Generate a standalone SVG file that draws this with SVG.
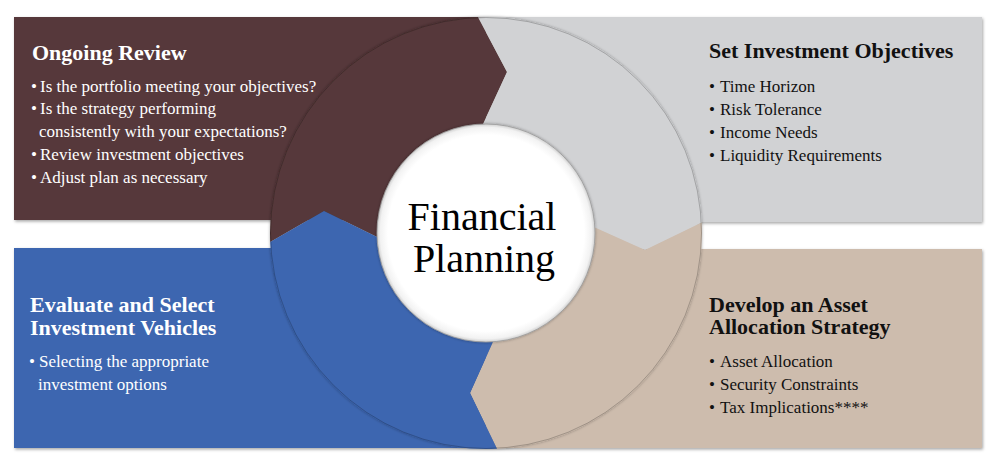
<svg xmlns="http://www.w3.org/2000/svg" width="992" height="464" viewBox="0 0 992 464">
  <defs>
    <filter id="sh" x="-5%" y="-5%" width="110%" height="112%">
      <feDropShadow dx="1" dy="1.5" stdDeviation="1.5" flood-color="#000" flood-opacity="0.35"/>
    </filter>
    <filter id="shr" x="-5%" y="-5%" width="110%" height="110%">
      <feDropShadow dx="0" dy="0" stdDeviation="1.5" flood-color="#000" flood-opacity="0.35"/>
    </filter>
    <radialGradient id="inner" cx="50%" cy="50%" r="50%">
      <stop offset="0.9" stop-color="#ffffff"/>
      <stop offset="0.97" stop-color="#f2f2f2"/>
      <stop offset="1" stop-color="#d0d0d0"/>
    </radialGradient>
    <style>
      .title { font-family: "Liberation Serif", "Times New Roman", serif; font-weight: bold; font-size: 22px; }
      .body { font-family: "Liberation Serif", "Times New Roman", serif; font-size: 17px; }
      .center { font-family: "Liberation Serif", "Times New Roman", serif; font-size: 40px; fill: #000; text-anchor: middle; }
      .light { fill: #ffffff; }
      .dark { fill: #111111; }
      .brown { fill: #56393A; }
      .grey { fill: #D1D2D4; }
      .tan { fill: #CDBCAD; }
      .blue { fill: #3D66B0; }
    </style>
  </defs>

  <!-- background panels -->
  <g id="panels" filter="url(#sh)">
    <rect id="panel-review" class="brown" x="14" y="17" width="472" height="203"/>
    <rect id="panel-objectives" class="grey" x="486" y="17" width="496" height="205"/>
    <rect id="panel-vehicles" class="blue" x="14" y="248" width="472" height="200"/>
    <rect id="panel-allocation" class="tan" x="486" y="249" width="496" height="199"/>
  </g>

  <!-- cycle ring segments (chevron arrows) -->
  <g id="connectors" filter="url(#shr)">
    <path id="seg-review" class="brown" d="M270.19,242 A216,216 0 0 1 478,17.15 L507,72 L483,124.04 A109,109 0 0 0 377.07,237 L324,211 Z"/>
    <path id="seg-objectives" class="grey" d="M478,17.15 A216,216 0 0 1 701.74,222.5 L645,250 L594.86,227.5 A109,109 0 0 0 483,124.04 L507,72 Z"/>
    <path id="seg-allocation" class="tan" d="M701.74,222.5 A216,216 0 0 1 497,448.72 L470,393 L493,341.78 A109,109 0 0 0 594.86,227.5 L645,250 Z"/>
    <path id="seg-vehicles" class="blue" d="M497,448.72 A216,216 0 0 1 270.19,242 L324,211 L377.07,237 A109,109 0 0 0 493,341.78 L470,393 Z"/>
    <circle cx="486" cy="233" r="215.5" fill="none" stroke="#000" stroke-opacity="0.22" stroke-width="1"/>
  </g>

  <!-- center -->
  <g id="node-center">
    <circle cx="486" cy="233" r="109" fill="url(#inner)" stroke="#9a9a9a" stroke-width="0.8" filter="url(#shr)"/>
    <text class="center" x="482" y="230">Financial</text>
    <text class="center" x="484" y="272">Planning</text>
  </g>

  <g id="node-review">
    <text class="title light" x="32" y="60">Ongoing Review</text>
    <text class="body light" x="31" y="91.5">•</text>
    <text class="body light" x="40" y="91.5">Is the portfolio meeting your objectives?</text>
    <text class="body light" x="31" y="114">•</text>
    <text class="body light" x="40" y="114">Is the strategy performing</text>
    <text class="body light" x="39" y="136.7">consistently with your expectations?</text>
    <text class="body light" x="31" y="159.5">•</text>
    <text class="body light" x="40" y="159.5">Review investment objectives</text>
    <text class="body light" x="31" y="182.5">•</text>
    <text class="body light" x="40" y="182.5">Adjust plan as necessary</text>
  </g>

  <g id="node-objectives">
    <text class="title dark" x="709" y="58.3">Set Investment Objectives</text>
    <text class="body dark" x="709" y="91.5">•</text>
    <text class="body dark" x="720" y="91.5">Time Horizon</text>
    <text class="body dark" x="709" y="114.5">•</text>
    <text class="body dark" x="720" y="114.5">Risk Tolerance</text>
    <text class="body dark" x="709" y="137.5">•</text>
    <text class="body dark" x="720" y="137.5">Income Needs</text>
    <text class="body dark" x="709" y="160.7">•</text>
    <text class="body dark" x="720" y="160.7">Liquidity Requirements</text>
  </g>

  <g id="node-allocation">
    <text class="title dark" x="709" y="311.7">Develop an Asset</text>
    <text class="title dark" x="709" y="334.3">Allocation Strategy</text>
    <text class="body dark" x="709" y="366.7">•</text>
    <text class="body dark" x="720" y="366.7">Asset Allocation</text>
    <text class="body dark" x="709" y="389.7">•</text>
    <text class="body dark" x="720" y="389.7">Security Constraints</text>
    <text class="body dark" x="709" y="412.7">•</text>
    <text class="body dark" x="720" y="412.7">Tax Implications****</text>
  </g>

  <g id="node-vehicles">
    <text class="title light" x="30" y="311.7">Evaluate and Select</text>
    <text class="title light" x="30" y="334.7">Investment Vehicles</text>
    <text class="body light" x="29" y="367">•</text>
    <text class="body light" x="39" y="367">Selecting the appropriate</text>
    <text class="body light" x="38" y="390">investment options</text>
  </g>
</svg>
